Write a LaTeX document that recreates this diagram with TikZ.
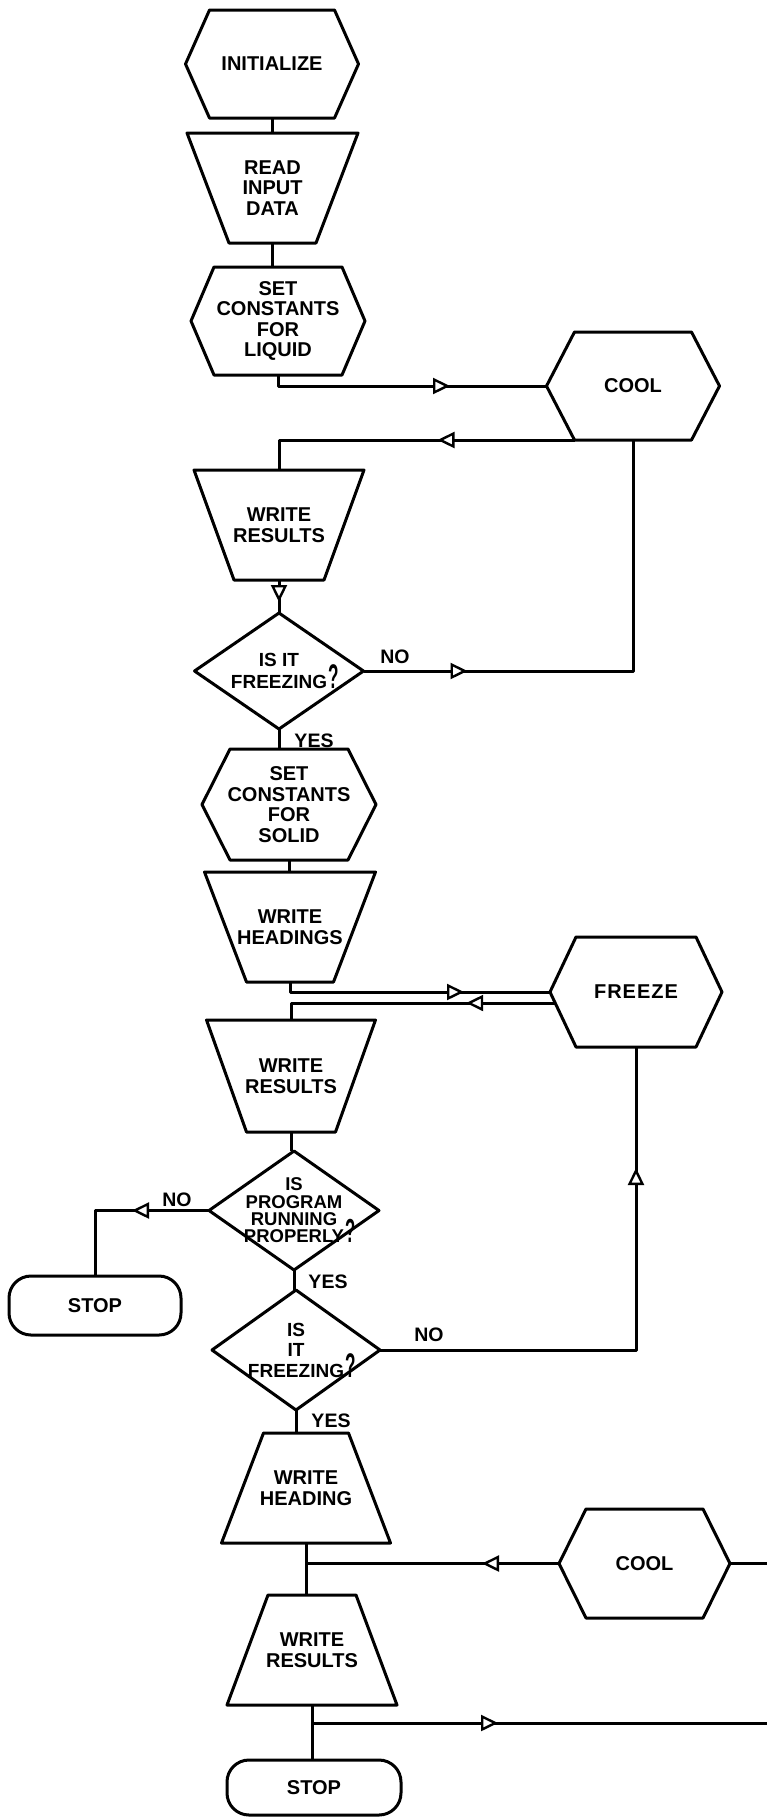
\documentclass[tikz,border=0pt]{standalone}
\usepackage{fontspec}
\usepackage{graphicx}
\setmainfont{Liberation Sans}
\usetikzlibrary{calc,arrows.meta,decorations.markings}
\newcommand{\drawhex}[2]{\draw[shp] ($(#1.north west)+(#2,0)$) -- ($(#1.north east)+(-#2,0)$) -- (#1.east) -- ($(#1.south east)+(-#2,0)$) -- ($(#1.south west)+(#2,0)$) -- (#1.west) -- cycle;}
\newcommand{\drawtrapdn}[2]{\draw[shp] (#1.north west) -- (#1.north east) -- ($(#1.south east)+(-#2,0)$) -- ($(#1.south west)+(#2,0)$) -- cycle;}
\newcommand{\drawtrapup}[2]{\draw[shp] ($(#1.north west)+(#2,0)$) -- ($(#1.north east)+(-#2,0)$) -- (#1.south east) -- (#1.south west) -- cycle;}
\newcommand{\drawdiam}[1]{\draw[shp] (#1.north) -- (#1.east) -- (#1.south) -- (#1.west) -- cycle;}
\newcommand{\bigq}{\rlap{\smash{\kern1pt\scalebox{0.9}[1.8]{?}}}}
\tikzset{
  shp/.style={line width=3pt, line join=round},
  conn/.style={line width=3pt, line join=round},
  box/.style={inner sep=0pt, outer sep=0pt, align=center, font=\fontsize{20}{20.5}\selectfont\bfseries},
  dbox/.style={inner sep=0pt, outer sep=0pt, align=center, font=\fontsize{19}{20.5}\selectfont\bfseries},
  term/.style={draw, line width=3pt, rounded corners=22pt, inner sep=0pt, outer sep=0pt, font=\fontsize{20}{20.5}\selectfont\bfseries},
  lbl/.style={inner sep=0pt, font=\fontsize{19.5}{20}\selectfont\bfseries},
  tipat/.style={postaction={decorate, decoration={markings, mark=at position #1 with {\arrow{Triangle[fill=white, length=17pt, width=16pt, line width=2.4pt]}}}}}
}
\begin{document}
\begin{tikzpicture}[x=1pt,y=-1pt]
\fill[white] (0,0) rectangle (767,1818);
\useasboundingbox (0,0) rectangle (767,1818);

% nodes
\node[box, minimum width=173pt, minimum height=108pt] (init) at (272,64) {INITIALIZE};
\node[box, minimum width=171pt, minimum height=110pt] (read) at (272.5,188) {READ\\INPUT\\DATA};
\node[box, minimum width=174pt, minimum height=108pt] (liq) at (278,321) {SET\\CONSTANTS\\FOR\\LIQUID};
\node[box, minimum width=173pt, minimum height=108pt] (cool1) at (633,386) {COOL};
\node[box, minimum width=170pt, minimum height=110pt] (res1) at (279,525) {WRITE\\RESULTS};
\node[dbox, minimum width=169pt, minimum height=116pt, font=\fontsize{19}{22}\selectfont\bfseries] (dia1) at (279,671) {IS IT\\FREEZING\bigq};
\node[box, minimum width=174pt, minimum height=111pt] (sol) at (289,804.5) {SET\\CONSTANTS\\FOR\\SOLID};
\node[box, minimum width=171pt, minimum height=110pt] (head) at (290,927) {WRITE\\HEADINGS};
\node[box, minimum width=172pt, minimum height=110pt] (freeze) at (636,992) {F\kern1pt R\kern1pt E\kern1pt E\kern1pt Z\kern1pt E};
\node[box, minimum width=169pt, minimum height=112pt] (res2) at (291,1076) {WRITE\\RESULTS};
\node[dbox, minimum width=170pt, minimum height=119pt, font=\fontsize{18.5}{17.3}\selectfont\bfseries] (dia2) at (294,1210.5) {IS\\PROGRAM\\RUNNING\\PROPERLY\bigq};
\node[term, minimum width=172pt, minimum height=59pt] (stop1) at (95,1305.5) {STOP};
\node[dbox, minimum width=168pt, minimum height=120pt] (dia3) at (296,1350) {IS\\IT\\FREEZING\bigq};
\node[box, minimum width=169pt, minimum height=110pt] (whead) at (306,1488) {WRITE\\HEADING};
\node[box, minimum width=171pt, minimum height=109pt] (cool2) at (644.5,1563.5) {COOL};
\node[box, minimum width=170pt, minimum height=110pt] (wres3) at (312,1650) {WRITE\\RESULTS};
\node[term, minimum width=174pt, minimum height=55pt] (stop2) at (314,1787.5) {STOP};

% outlines
\drawhex{init}{24}
\drawtrapdn{read}{42}
\drawhex{liq}{23}
\drawhex{cool1}{28}
\drawtrapdn{res1}{40}
\drawdiam{dia1}
\drawhex{sol}{28}
\drawtrapdn{head}{42}
\drawhex{freeze}{26}
\drawtrapdn{res2}{40}
\drawdiam{dia2}
\drawdiam{dia3}
\drawtrapup{whead}{42}
\drawhex{cool2}{27}
\drawtrapup{wres3}{41}

% labels
\node[lbl] (no1) at (395,657) {NO};
\node[lbl] (yes1) at (314,741) {YES};
\node[lbl] (no2) at (177,1200) {NO};
\node[lbl] (yes2) at (328,1282) {YES};
\node[lbl] (no3) at (429,1335) {NO};
\node[lbl] (yes3) at (331,1421) {YES};

% helper coordinates
\coordinate (c1bl) at ($(cool1.south west)+(28,0)$);
\coordinate (fzbl) at ($(freeze.south west)+(26,0)$);
\coordinate (fzl) at ($(freeze.west)!0.2!(fzbl)$);
\coordinate (j1) at (whead.south |- cool2.west);
\coordinate (edgeA) at (767,1563.5);
\coordinate (edgeB) at (767,1723);
\coordinate (j2) at (wres3.south |- edgeB);

% connectors
\draw[conn] (init.south) -- (init.south |- read.north);
\draw[conn] (read.south) -- (read.south |- liq.north);
\draw[conn, tipat=183pt] (liq.south) |- (cool1.west);
\draw[conn, tipat=137pt] (c1bl) -| (res1.north);
\draw[conn, tipat=22pt] (res1.south) -- (res1.south |- dia1.north);
\draw[conn, tipat=104pt] (dia1.east) -| (cool1.south);
\draw[conn] (dia1.south) -- (dia1.south |- sol.north);
\draw[conn] (sol.south) -- (sol.south |- head.north);
\draw[conn, tipat=184pt] (head.south) |- (freeze.west);
\draw[conn, tipat=89pt] (fzl) -| (res2.north);
\draw[conn] (res2.south) -- (res2.south |- dia2.north);
\draw[conn, tipat=77pt] (dia2.west) -| (stop1.north);
\draw[conn] (dia2.south) -- (dia2.south |- dia3.north);
\draw[conn, tipat=438pt] (dia3.east) -| (freeze.south);
\draw[conn] (dia3.south) -- (dia3.south |- whead.north);
\draw[conn] (whead.south) -- (whead.south |- wres3.north);
\draw[conn, tipat=77pt] (cool2.west) -- (j1);
\draw[conn] (cool2.east) -- (edgeA);
\draw[conn] (wres3.south) -- (wres3.south |- stop2.north);
\draw[conn, tipat=186pt] (j2) -- (edgeB);
\end{tikzpicture}
\end{document}
